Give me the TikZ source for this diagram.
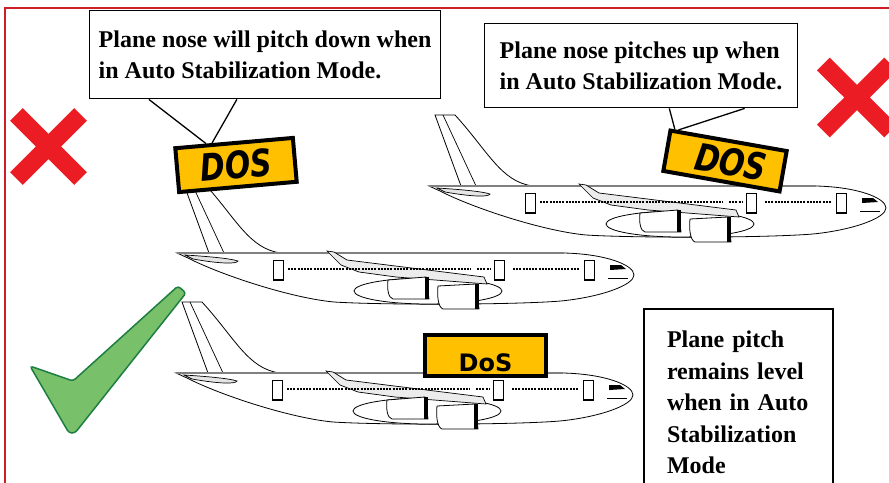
\documentclass[tikz,border=0pt]{standalone}
\usepackage{fontspec}
\setmainfont{Liberation Serif}
\newfontfamily\signfont{DejaVu Sans}
\usetikzlibrary{calc}
\definecolor{signgold}{RGB}{255,192,0}
\definecolor{crossred}{RGB}{236,28,36}
\definecolor{framered}{RGB}{204,32,38}
\definecolor{tickgreen}{RGB}{120,192,106}
\definecolor{tickedge}{RGB}{30,126,66}
\tikzset{
       note/.style = { draw, line width=1.4pt, fill=white, align=left, inner xsep=9pt,
                       font=\bfseries\fontsize{24}{31.5}\selectfont },
       sign/.style = { draw, line width=4pt, fill=signgold, inner sep=0pt,
                       font=\signfont\bfseries\itshape\fontsize{34}{34}\selectfont },
    pointer/.style = { line width=1.3pt },
      cross/.style = { crossred, line width=18pt },
       hull/.style = { fill=white, line width=0.8pt },
     airliner/.pic = {
       % fin
       \draw[hull] (2,-71) -- (22,-71) .. controls (55,-35) and (68,-4) .. (100,0) -- (28,0) -- cycle;
       \draw[line width=0.7pt] (10,-71) -- (43,0);
       % fuselage
       \draw[hull] (-4,0) -- (383,0) .. controls (425,1) and (453,12) .. (453,22)
                   .. controls (453,32) and (420,44) .. (380,48)
                   .. controls (330,52) and (200,52) .. (153,49)
                   .. controls (110,45) and (40,22) .. (7,5) -- cycle;
       \draw[gray, line width=1.2pt] (-4,0) -- (383,0);
       % tailplane
       \draw[fill=gray!20, line width=0.7pt] (4,2) .. controls (20,3) and (48,5) .. (57,8)
                   .. controls (56,11) and (40,11) .. (12,6) -- cycle;
       % fairing, wing, engines
       \draw[hull] (247,38) ellipse [x radius=74, y radius=13];
       \draw[fill=gray!15, line width=0.7pt] (146,-2) -- (153,-1) -- (166,7) -- (303,24) -- (306,31)
                   -- (215,24) -- (178,19) -- (160,12) -- cycle;
       \draw[hull] (207,27) -- (245,24) -- (248,46) -- (212,46) .. controls (207,45) and (206,35) .. cycle;
       \fill (244,24) rectangle (248,46);
       \draw[hull] (257,33) -- (295,31) -- (298,56) -- (262,56) .. controls (257,54) and (256,43) .. cycle;
       \fill (294,31) rectangle (298,56);
       % windows and doors
       \draw[line width=2.8pt, dash pattern=on 2pt off 1.2pt] (107,16) -- (290,16) (296,16) -- (309,16) (332,16) -- (398,16);
       \foreach \d in {92,313,403} {
         \draw[hull] (\d,7) rectangle ++(10,20);
         \draw[line width=2pt] (\d,27) -- ++(11,0);
       }
       % cockpit
       \fill (429,12) -- (440,12) -- (445,16) -- (429,17) -- cycle;
       \draw[line width=0.8pt] (427,25) -- (447,25);
     }
}

\begin{document}
\begin{tikzpicture}[x=1pt, y=-1pt]
  \clip (0,0) rectangle (889,482);
  % frame
  \draw[framered, line width=1.6pt] (5,490) -- (5,8) -- (900,8);

  % crosses
  \draw[cross] (16.4,114.4) -- (80.6,178.6) (16.4,178.6) -- (80.6,114.4);
  \draw[cross] (823.4,64) -- (890.6,131) (823.4,131) -- (890.6,64);

  % planes
  \pic at (433,186) {airliner};
  \pic at (181,253) {airliner};
  \pic at (180,373) {airliner};

  % tick
  \draw[tickedge, fill=tickgreen, line width=1.5pt, rounded corners=3pt]
    (30,366) -- (73,381) -- (178,286) -- (186,293) -- (75,433) -- (69,433) -- cycle;

  % signs
  \node (dos1) at (236,165) [sign, rotate=5, minimum width=118pt, minimum height=44pt]
    {\scalebox{0.88}[1.1]{DOS}};
  \node (dos2) at (725,161) [sign, rotate=-10, minimum width=118pt, minimum height=41pt]
    {\hspace{12pt}\scalebox{0.88}[1.1]{DOS}};
  \node (dos3) at (485.5,355.5) [sign, minimum width=121pt, minimum height=41pt,
    font=\signfont\bfseries\fontsize{24}{24}\selectfont] {\raisebox{-16pt}[0pt][0pt]{DoS}};

  % notes
  \node (note1) at (89,10) [note, anchor=north west, minimum height=88pt]
    {Plane nose will pitch down when\\in Auto Stabilization Mode.};
  \node (note2) at (484,23) [note, anchor=north west, minimum height=84pt, inner xsep=15pt]
    {Plane nose pitches up when\\in Auto Stabilization Mode.};
  \node (note3) at (643,308) [note, anchor=north west, line width=2pt, text width=143pt,
    inner xsep=23pt, inner ysep=22pt]
    {Plane pitch\\remains level\\when in Auto\\Stabilization\\Mode};

  % pointers
  \coordinate (base1a) at ($(note1.south west)!0.17!(note1.south east)$);
  \coordinate (base1b) at ($(note1.south west)!0.42!(note1.south east)$);
  \coordinate (tip1a) at ($(dos1.north west)!0.27!(dos1.north east)$);
  \coordinate (tip1b) at ($(dos1.north west)!0.32!(dos1.north east)$);
  \coordinate (base2a) at ($(note2.south west)!0.59!(note2.south east)$);
  \coordinate (base2b) at ($(note2.south west)!0.83!(note2.south east)$);
  \coordinate (tip2a) at ($(dos2.north west)!0.05!(dos2.north east)$);
  \coordinate (tip2b) at ($(dos2.north west)!0.08!(dos2.north east)$);
  \draw[pointer] (base1a) -- (tip1a);
  \draw[pointer] (base1b) -- (tip1b);
  \draw[pointer] (base2a) -- (tip2a);
  \draw[pointer] (base2b) -- (tip2b);
\end{tikzpicture}
\end{document}
